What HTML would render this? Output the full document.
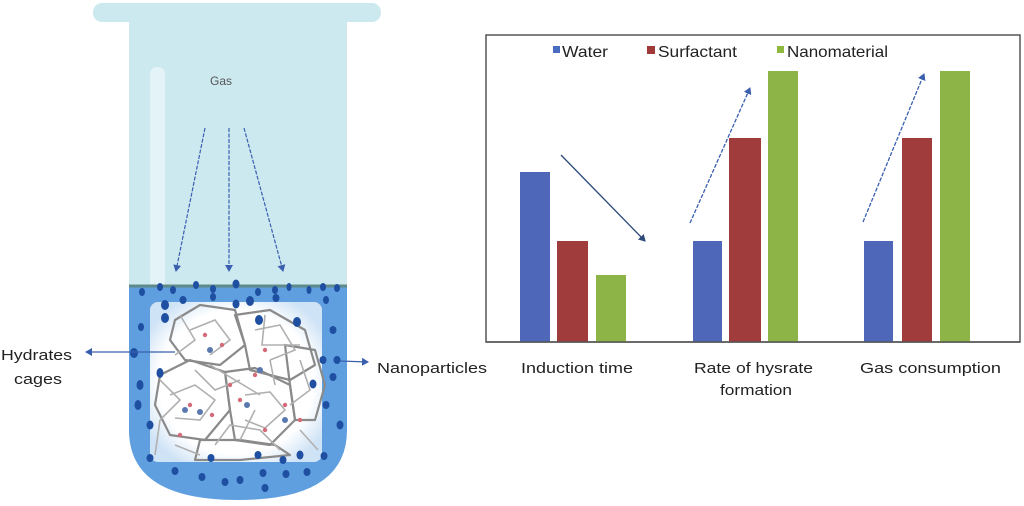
<!DOCTYPE html>
<html><head><meta charset="utf-8"><style>
html,body{margin:0;padding:0;background:#fff;}
svg{display:block;font-family:"Liberation Sans",Arial,sans-serif;}
</style></head><body>
<svg width="1024" height="506" viewBox="0 0 1024 506" xmlns="http://www.w3.org/2000/svg">
<defs>
<marker id="ab" markerWidth="8" markerHeight="8" refX="6" refY="4" orient="auto" markerUnits="userSpaceOnUse"><path d="M0,0 L7,4 L0,8 z" fill="#3a5fae"/></marker>
<marker id="ad" markerWidth="8" markerHeight="8" refX="6" refY="4" orient="auto" markerUnits="userSpaceOnUse"><path d="M0,0 L7,4 L0,8 z" fill="#2e4a7a"/></marker>
<radialGradient id="wg" cx="0.5" cy="0.5" r="0.6"><stop offset="0.75" stop-color="#ffffff"/><stop offset="1" stop-color="#cfe3f6"/></radialGradient>
</defs>
<!-- tube -->
<rect x="93" y="3" width="288" height="19" rx="9" fill="#cde9f0"/>
<rect x="129" y="18" width="218" height="270" fill="#cde9f0"/>
<rect x="150" y="67" width="15" height="230" rx="7" fill="#e3f3f7"/>
<path d="M129,286 L347,286 L347,430 Q347,500 238,500 Q129,500 129,430 Z" fill="#5f9fe0"/>
<line x1="129" y1="286" x2="347" y2="286" stroke="#5e8a8a" stroke-width="3"/>
<rect x="150" y="302" width="172" height="160" rx="8" fill="url(#wg)"/>
<text x="210" y="85" font-size="12" fill="#555">Gas</text>
<g stroke="#3a5fae" stroke-width="1.2" stroke-dasharray="4,1.5" fill="none">
<line x1="205" y1="128" x2="176" y2="271" marker-end="url(#ab)"/>
<line x1="229" y1="128" x2="229" y2="271" marker-end="url(#ab)"/>
<line x1="244" y1="128" x2="283" y2="271" marker-end="url(#ab)"/>
</g>
<!-- cages -->
<g stroke="#8a8a8a" stroke-width="2.2" fill="none" stroke-linejoin="round">
<polygon points="175,320 200,305 235,310 245,345 220,365 185,360 170,340"/>
<polygon points="235,315 270,310 305,330 315,365 290,380 250,370 245,345"/>
<polygon points="160,375 190,360 225,372 230,410 205,440 170,435 155,405"/>
<polygon points="225,372 255,368 290,385 295,420 270,445 235,440 230,410"/>
<polygon points="285,345 315,350 325,385 315,420 295,420 290,385"/>
<polygon points="200,440 240,440 275,445 290,455 240,460 195,460"/>
</g>
<g stroke="#b0b0b0" stroke-width="1.6" fill="none">
<polyline points="190,330 215,320 230,340 210,355"/>
<polyline points="255,330 280,325 295,350 270,360"/>
<polyline points="170,395 195,385 215,400 200,420 175,418"/>
<polyline points="245,395 270,392 285,410 265,428 245,420"/>
<polyline points="180,315 195,340 175,355"/>
<polyline points="265,315 262,345 300,345"/>
<polyline points="160,380 180,400 160,420"/>
<polyline points="300,360 310,390 290,405"/>
<polyline points="215,445 230,425 260,430 280,450"/>
<polyline points="195,370 215,390 240,380"/>
<line x1="160" y1="420" x2="155" y2="455"/><line x1="300" y1="430" x2="318" y2="450"/>
<line x1="210" y1="365" x2="260" y2="395"/><line x1="240" y1="440" x2="255" y2="410"/>
<line x1="270" y1="360" x2="275" y2="385"/><line x1="175" y1="445" x2="200" y2="455"/>
</g>
<g fill="#d46a7a">
<circle cx="205" cy="335" r="2.2"/><circle cx="222" cy="345" r="2.2"/><circle cx="265" cy="350" r="2.2"/><circle cx="255" cy="375" r="2.2"/>
<circle cx="190" cy="405" r="2.2"/><circle cx="212" cy="415" r="2.2"/><circle cx="240" cy="400" r="2.2"/><circle cx="285" cy="405" r="2.2"/>
<circle cx="300" cy="420" r="2.2"/><circle cx="180" cy="435" r="2.2"/><circle cx="265" cy="430" r="2.2"/><circle cx="230" cy="385" r="2.2"/>
</g>
<g fill="#5a78b0">
<circle cx="210" cy="350" r="3"/><circle cx="260" cy="370" r="3"/><circle cx="185" cy="410" r="3"/><circle cx="200" cy="412" r="3"/><circle cx="247" cy="405" r="3"/><circle cx="285" cy="420" r="3"/>
</g>
<!-- nanoparticles -->
<g fill="#1f4fa0">
<ellipse cx="142" cy="292" rx="3" ry="4"/><ellipse cx="160" cy="287" rx="3" ry="4"/><ellipse cx="173" cy="290" rx="3" ry="4"/><ellipse cx="196" cy="285" rx="3" ry="4"/><ellipse cx="213" cy="289" rx="3" ry="4"/><ellipse cx="236" cy="284" rx="3.5" ry="4.5"/><ellipse cx="258" cy="292" rx="3" ry="4"/><ellipse cx="275" cy="290" rx="3" ry="4"/><ellipse cx="289" cy="287" rx="2.5" ry="4"/><ellipse cx="309" cy="290" rx="2.5" ry="4"/><ellipse cx="323" cy="287" rx="3" ry="4"/><ellipse cx="337" cy="288" rx="3" ry="4"/>
<ellipse cx="183" cy="300" rx="3.5" ry="4"/><ellipse cx="213" cy="297" rx="3" ry="4"/><ellipse cx="250" cy="301" rx="4" ry="5"/><ellipse cx="276" cy="298" rx="3.5" ry="4"/><ellipse cx="165" cy="305" rx="4" ry="5"/><ellipse cx="236" cy="304" rx="3.5" ry="4.5"/><ellipse cx="326" cy="300" rx="3" ry="4"/>
<ellipse cx="165" cy="318" rx="4" ry="5"/><ellipse cx="259" cy="320" rx="4" ry="5"/><ellipse cx="297" cy="322" rx="4" ry="5"/><ellipse cx="141" cy="327" rx="3" ry="4"/><ellipse cx="333" cy="330" rx="3.5" ry="4"/>
<ellipse cx="134" cy="353" rx="4" ry="5"/><ellipse cx="323" cy="360" rx="3.5" ry="4"/><ellipse cx="337" cy="360" rx="3.5" ry="4"/><ellipse cx="160" cy="373" rx="3.5" ry="5"/><ellipse cx="140" cy="385" rx="3.5" ry="5"/><ellipse cx="313" cy="384" rx="3.5" ry="4.5"/><ellipse cx="333" cy="377" rx="3.5" ry="4"/><ellipse cx="138" cy="405" rx="3.5" ry="5"/><ellipse cx="326" cy="405" rx="3.5" ry="4"/><ellipse cx="150" cy="425" rx="3.5" ry="4.5"/><ellipse cx="340" cy="425" rx="3.5" ry="4.5"/>
<ellipse cx="150" cy="458" rx="3.5" ry="4"/><ellipse cx="211" cy="458" rx="3.5" ry="4"/><ellipse cx="258" cy="455" rx="3.5" ry="4"/><ellipse cx="283" cy="460" rx="3.5" ry="4"/><ellipse cx="300" cy="455" rx="3.5" ry="4.5"/><ellipse cx="324" cy="456" rx="3.5" ry="4"/>
<ellipse cx="175" cy="471" rx="3.5" ry="4"/><ellipse cx="202" cy="477" rx="3.5" ry="4"/><ellipse cx="240" cy="480" rx="3.5" ry="4"/><ellipse cx="263" cy="473" rx="3.5" ry="4"/><ellipse cx="286" cy="474" rx="3.5" ry="4"/><ellipse cx="307" cy="472" rx="3.5" ry="4"/><ellipse cx="225" cy="482" rx="3.5" ry="4"/><ellipse cx="265" cy="488" rx="3.5" ry="4"/>
</g>
<g stroke="#3a5fae" stroke-width="1.2" fill="none">
<line x1="175" y1="352" x2="86" y2="352" marker-end="url(#ab)"/>
<line x1="340" y1="361" x2="368" y2="362" marker-end="url(#ab)"/>
</g>
<g font-size="15" fill="#222">
<text x="1" y="360" textLength="71" lengthAdjust="spacingAndGlyphs">Hydrates</text>
<text x="14" y="384" textLength="48" lengthAdjust="spacingAndGlyphs">cages</text>
<text x="377" y="373" textLength="110" lengthAdjust="spacingAndGlyphs">Nanoparticles</text>
</g>
<!-- chart -->
<rect x="486" y="35" width="534" height="307" fill="#fff" stroke="#555" stroke-width="1.5"/>
<g font-size="16" fill="#222">
<rect x="553" y="46" width="7" height="7" fill="#4a6cc0"/><text x="562" y="57" textLength="46" lengthAdjust="spacingAndGlyphs">Water</text>
<rect x="647" y="46" width="8" height="8" fill="#a0393a"/><text x="658" y="57" textLength="79" lengthAdjust="spacingAndGlyphs">Surfactant</text>
<rect x="777" y="46" width="7" height="7" fill="#8fb83f"/><text x="787" y="57" textLength="101" lengthAdjust="spacingAndGlyphs">Nanomaterial</text>
</g>
<g>
<rect x="520" y="172" width="30" height="170" fill="#4f67b8"/>
<rect x="557" y="241" width="31" height="101" fill="#a03c3c"/>
<rect x="596" y="275" width="30" height="67" fill="#8db446"/>
<rect x="693" y="241" width="29" height="101" fill="#4f67b8"/>
<rect x="729" y="138" width="32" height="204" fill="#a03c3c"/>
<rect x="768" y="71" width="30" height="271" fill="#8db446"/>
<rect x="864" y="241" width="29" height="101" fill="#4f67b8"/>
<rect x="902" y="138" width="30" height="204" fill="#a03c3c"/>
<rect x="940" y="71" width="30" height="271" fill="#8db446"/>
</g>
<line x1="486" y1="342" x2="1020" y2="342" stroke="#555" stroke-width="1.5"/>
<line x1="561" y1="155" x2="645" y2="241" stroke="#2e4a7a" stroke-width="1.3" marker-end="url(#ad)"/>
<line x1="690" y1="223" x2="750" y2="88" stroke="#3a5fae" stroke-width="1.3" stroke-dasharray="4,1.5" marker-end="url(#ab)"/>
<line x1="863" y1="222" x2="924" y2="74" stroke="#3a5fae" stroke-width="1.3" stroke-dasharray="4,1.5" marker-end="url(#ab)"/>
<g font-size="15" fill="#222">
<text x="521" y="373" textLength="112" lengthAdjust="spacingAndGlyphs">Induction time</text>
<text x="694" y="373" textLength="119" lengthAdjust="spacingAndGlyphs">Rate of hysrate</text>
<text x="720" y="395" textLength="72" lengthAdjust="spacingAndGlyphs">formation</text>
<text x="860" y="373" textLength="141" lengthAdjust="spacingAndGlyphs">Gas consumption</text>
</g>
</svg>
</body></html>
